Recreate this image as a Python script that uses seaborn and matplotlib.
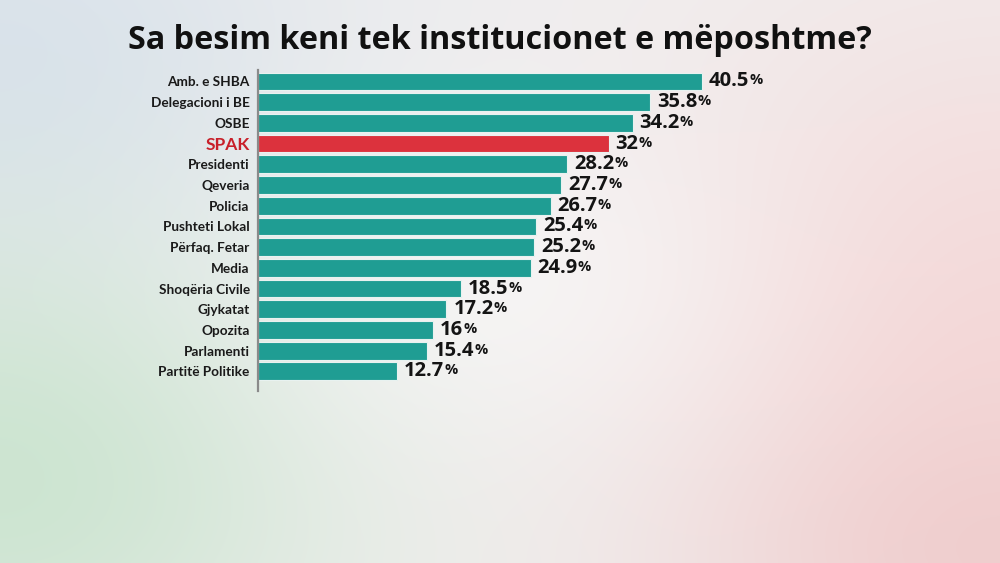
import numpy as np
import pandas as pd
import matplotlib
matplotlib.use("Agg")
import matplotlib.pyplot as plt
import seaborn as sns

# ---- data ----
categories = ["Amb. e SHBA", "Delegacioni i BE", "OSBE", "SPAK", "Presidenti",
              "Qeveria", "Policia", "Pushteti Lokal", "Përfaq. Fetar", "Media",
              "Shoqëria Civile", "Gjykatat", "Opozita", "Parlamenti", "Partitë Politike"]
values = [40.5, 35.8, 34.2, 32, 28.2, 27.7, 26.7, 25.4, 25.2, 24.9,
          18.5, 17.2, 16, 15.4, 12.7]
value_labels = ["40.5", "35.8", "34.2", "32", "28.2", "27.7", "26.7", "25.4", "25.2",
                "24.9", "18.5", "17.2", "16", "15.4", "12.7"]
highlight = "SPAK"
title = "Sa besim keni tek institucionet e mëposhtme?"

TEAL = "#1f9d93"
RED = "#dc323d"

sns.set_theme(style="white")
plt.rcParams['font.family'] = ['Lato', 'DejaVu Sans']
WIDE = ['Open Sans', 'DejaVu Sans']

fig = plt.figure(figsize=(10, 5.63), dpi=100)

# ---- soft gradient background ----
bg = fig.add_axes([0, 0, 1, 1], zorder=-10)
H, W = 282, 500
yy, xx = np.mgrid[0:H, 0:W]
xn, yn = xx / W, yy / H
img = np.ones((H, W, 3)) * np.array([0.945, 0.940, 0.940])
def blob(cx, cy, sx, sy, col, s):
    w = s * np.exp(-(((xn - cx) / sx) ** 2 + ((yn - cy) / sy) ** 2))
    return w[..., None], np.array(col)
for cx, cy, sx, sy, col, s in [
        (0.0, 0.1, 0.35, 0.45, (0.84, 0.88, 0.92), 0.85),
        (0.0, 0.85, 0.35, 0.45, (0.78, 0.89, 0.80), 0.85),
        (1.0, 0.6, 0.35, 0.6, (0.96, 0.84, 0.84), 0.85),
        (1.0, 1.0, 0.3, 0.3, (0.93, 0.76, 0.76), 0.6),
        (0.5, 0.5, 0.25, 0.3, (0.99, 0.99, 0.99), 0.5)]:
    w, c = blob(cx, cy, sx, sy, col, s)
    img = img * (1 - w) + c * w
bg.imshow(np.clip(img, 0, 1), aspect='auto', extent=[0, 1, 0, 1], interpolation='bilinear')
bg.set_axis_off()

# ---- bars ----
ax = fig.add_axes([0.258, 0.3055, 0.642, 0.570])
ax.set_facecolor("none")
df = pd.DataFrame({"cat": categories, "val": values})
palette = {c: (RED if c == highlight else TEAL) for c in categories}
sns.barplot(data=df, x="val", y="cat", hue="cat", palette=palette, legend=False,
            orient="h", width=0.86, edgecolor="#e8f2f0", linewidth=0.8, ax=ax,
            saturation=1)
ax.set_xlim(0, 58.6)
ax.set_ylim(14.95, -0.55)
ax.set_xlabel("")
ax.set_ylabel("")
ax.set_xticks([])
for s in ["top", "right", "bottom"]:
    ax.spines[s].set_visible(False)
ax.spines["left"].set_color("#8a8a8a")
ax.spines["left"].set_linewidth(1.6)
ax.tick_params(axis="y", length=0, pad=6)
for lab in ax.get_yticklabels():
    lab.set_fontweight("bold")
    lab.set_color("#1a1a1a")
    lab.set_fontsize(9.8)
    if lab.get_text() == highlight:
        lab.set_color("#c8202a")
        lab.set_fontsize(12.5)

# value labels: big number + small percent sign
for i, (v, txt) in enumerate(zip(values, value_labels)):
    t = ax.annotate(txt, xy=(v, i), xytext=(5, 0), textcoords="offset points",
                    ha="left", va="center", fontsize=14.5, fontweight="bold",
                    color="#141414", family=WIDE)
    ax.annotate("%", xy=(1, 0.2), xycoords=t, xytext=(0, 0), textcoords="offset points",
                ha="left", va="bottom", fontsize=10.5, fontweight="bold", color="#141414",
                family=WIDE)

fig.text(0.5, 0.928, title, ha="center", va="center", fontsize=23.3,
         fontweight="bold", color="#111111", family=WIDE)

fig.savefig("out.png", dpi=100)
